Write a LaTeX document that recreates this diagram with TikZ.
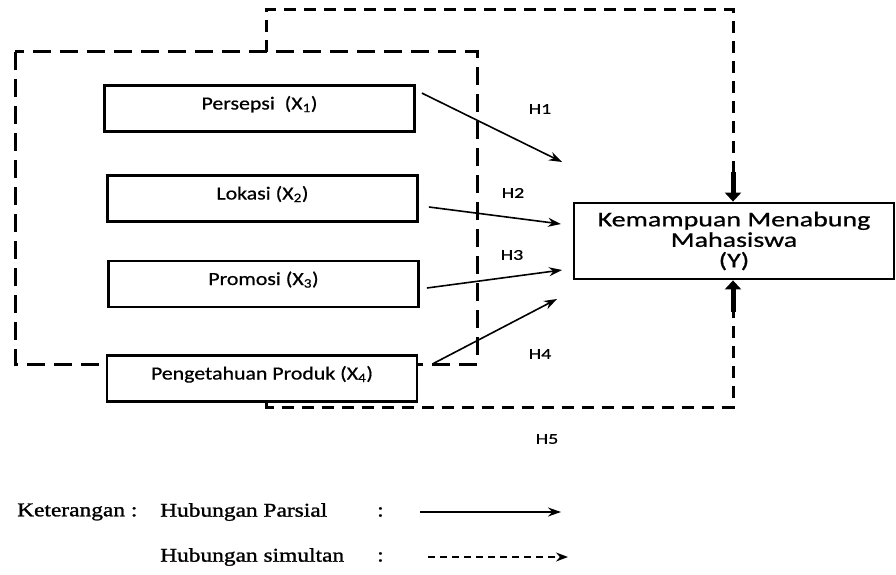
\documentclass[tikz,border=0pt]{standalone}
\usepackage{fontspec}
\newfontfamily\boxfont[FakeStretch=1.18,FakeBold=0.6]{Carlito}
\newfontfamily\yfont[FakeStretch=1.33,FakeBold=0.8]{Carlito}
\newfontfamily\legfont[FakeStretch=1.2,FakeBold=1.2]{Liberation Serif}
\usetikzlibrary{arrows.meta}

\begin{document}
\begin{tikzpicture}[
  x=1pt,
  y=-1pt,
  varbox/.style={draw=black, fill=white, line width=2.8pt, minimum width=310pt, minimum height=46pt, inner sep=0pt, text height=12pt, text depth=10pt, font=\boxfont\fontsize{18.5}{22}\selectfont},
  ybox/.style={draw=black, fill=white, line width=2.8pt, minimum width=320pt, minimum height=76pt, inner sep=0pt, align=center, font=\yfont\fontsize{21}{20.5}\selectfont},
  hlabel/.style={inner sep=1pt, font=\yfont\fontsize{15}{18}\selectfont},
  legtext/.style={anchor=west, inner sep=0pt, font=\legfont\fontsize{19.5}{22}\selectfont},
  partial/.style={line width=1.6pt, -{Stealth[length=13pt,width=9pt]}},
  grpline/.style={line width=3pt, dash pattern=on 18pt off 9pt},
  simline/.style={line width=3pt, dash pattern=on 12pt off 8pt},
  thickarr/.style={line width=5pt, -{Triangle[length=9pt,width=16pt]}},
  legsim/.style={line width=1.6pt, dash pattern=on 7pt off 5pt, -{Stealth[length=12pt,width=9pt]}}
]
\useasboundingbox (0,0) rectangle (896,575);

% group of the four variables
\draw[grpline] (15,52) rectangle (477,364);

\node[varbox] (persepsi) at (259.5,108.5) {Persepsi\ \ (X\textsubscript{1})};
\node[varbox] (lokasi) at (262.5,198.5) {Lokasi (X\textsubscript{2})};
\node[varbox] (promosi) at (263.5,284) {Promosi (X\textsubscript{3})};
\node[varbox] (produk) at (262,378.5) {Pengetahuan Produk (X\textsubscript{4})};

\node[ybox] (kmm) at (734,241) {Kemampuan Menabung\\Mahasiswa\\(Y)};

% simultaneous path
\coordinate (otl) at (266,10);
\coordinate (otr) at (733,10);
\coordinate (obl) at (266,407);
\coordinate (obr) at (733,407);
\coordinate (ytop) at (733,172);
\coordinate (ybot) at (733,312);
\draw[simline] (266,52) -- (otl) -- (otr) -- (ytop);
\draw[thickarr] (ytop) -- (kmm.north -| ytop);
\draw[simline] (produk.south -| obl) -- (obl) -- (obr) -- (ybot);
\draw[thickarr] (ybot) -- (kmm.south -| ybot);

% partial paths
\coordinate (h1e) at (562,162);
\coordinate (h2e) at (561,224);
\coordinate (h3e) at (562,270);
\coordinate (h4e) at (557,299);
\draw[partial] ([xshift=6pt,yshift=-9pt]persepsi.north east) -- (h1e);
\draw[partial] ([xshift=10pt,yshift=-8.5pt]lokasi.east) -- (h2e);
\draw[partial] ([xshift=7pt,yshift=-4pt]promosi.east) -- (h3e);
\draw[partial] ([xshift=14pt,yshift=14.5pt]produk.east) -- (h4e);

\node[hlabel] (h1) at (540,109) {H1};
\node[hlabel] (h2) at (513,193) {H2};
\node[hlabel] (h3) at (512,255) {H3};
\node[hlabel] (h4) at (540,354) {H4};
\node[hlabel] (h5) at (547,439) {H5};

% legend
\node[legtext] (ket) at (17,512) {Keterangan :};
\node[legtext] (parsial) at (160,512) {Hubungan Parsial};
\node[legtext] (simultan) at (160,557) {Hubungan simultan};
\node[legtext] (col1) at (377,512) {:};
\node[legtext] (col2) at (377,557) {:};
\coordinate (lp1) at (420,512);
\coordinate (lp2) at (561,512);
\coordinate (ls1) at (428,557);
\coordinate (ls2) at (568,557);
\draw[partial] (lp1) -- (lp2);
\draw[legsim] (ls1) -- (ls2);
\end{tikzpicture}
\end{document}
